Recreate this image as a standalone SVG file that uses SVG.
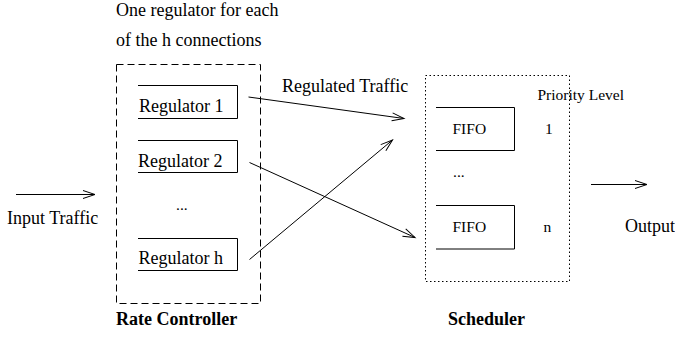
<svg xmlns="http://www.w3.org/2000/svg" width="675" height="343" viewBox="0 0 675 343">
<style>
  text { font-family: "Liberation Serif", "Times New Roman", serif; fill: #000; }
  .t18 { font-size: 18px; }
  .t15 { font-size: 15.5px; }
  .b { font-size: 18px; font-weight: bold; }
  .box { fill: none; stroke: #000; stroke-width: 1; }
  .dash { fill: none; stroke: #000; stroke-width: 1; stroke-dasharray: 7 4; }
  .dot { fill: none; stroke: #000; stroke-width: 1; stroke-dasharray: 1.5 2.5; }
  .con { fill: none; stroke: #000; stroke-width: 1; }
</style>
<defs>
  <marker id="arr" markerUnits="userSpaceOnUse" markerWidth="14" markerHeight="10" refX="12" refY="4" orient="auto" overflow="visible">
    <path d="M0,0 L12,4 L0,8" fill="none" stroke="#000" stroke-width="1"/>
  </marker>
</defs>
<rect width="675" height="343" fill="#fff"/>

<g id="note">
  <text class="t18" x="116" y="16">One regulator for each</text>
  <text class="t18" x="116" y="46">of the h connections</text>
</g>

<g id="rate-controller">
  <rect class="dash" x="116.5" y="64.5" width="144" height="239"/>
  <text class="b" x="116" y="325">Rate Controller</text>
</g>

<g id="regulator-1">
  <path class="box" d="M138,85.5 H237.5 V118.5 H138"/>
  <text class="t18" x="139" y="112">Regulator 1</text>
</g>
<g id="regulator-2">
  <path class="box" d="M138,140.5 H237.5 V172.5 H138"/>
  <text class="t18" x="138" y="167">Regulator 2</text>
</g>
<g id="regulator-dots">
  <text class="t15" x="176" y="210">...</text>
</g>
<g id="regulator-h">
  <path class="box" d="M138,238.5 H237.5 V270.5 H138"/>
  <text class="t18" x="138.5" y="264">Regulator h</text>
</g>

<g id="scheduler">
  <rect class="dot" x="425.5" y="75.5" width="144" height="206"/>
  <text class="b" x="448" y="325">Scheduler</text>
  <text class="t15" x="537.5" y="100">Priority Level</text>
</g>
<g id="fifo-1">
  <path class="box" d="M436,107.5 H514.5 V150.5 H436"/>
  <text class="t15" x="452.5" y="134">FIFO</text>
  <text class="t15" x="545" y="134">1</text>
</g>
<g id="fifo-dots">
  <text class="t15" x="453" y="177">...</text>
</g>
<g id="fifo-n">
  <path class="box" d="M436,205.5 H514.5 V249 H436"/>
  <text class="t15" x="452.5" y="232">FIFO</text>
  <text class="t15" x="543.5" y="232">n</text>
</g>

<g id="input">
  <text class="t18" x="7" y="224">Input Traffic</text>
</g>
<g id="output">
  <text class="t18" x="625" y="232">Output</text>
</g>
<g id="regulated-label">
  <text class="t18" x="282" y="92">Regulated Traffic</text>
</g>

<g id="connectors">
  <line class="con" x1="16" y1="194.5" x2="95" y2="194.5" marker-end="url(#arr)"/>
  <line class="con" x1="591" y1="184.5" x2="647" y2="184.5" marker-end="url(#arr)"/>
  <line class="con" x1="248.5" y1="97" x2="404" y2="118.5" marker-end="url(#arr)"/>
  <line class="con" x1="249.5" y1="162.5" x2="415" y2="237.5" marker-end="url(#arr)"/>
  <line class="con" x1="249.5" y1="259.5" x2="392.5" y2="140" marker-end="url(#arr)"/>
</g>
</svg>
